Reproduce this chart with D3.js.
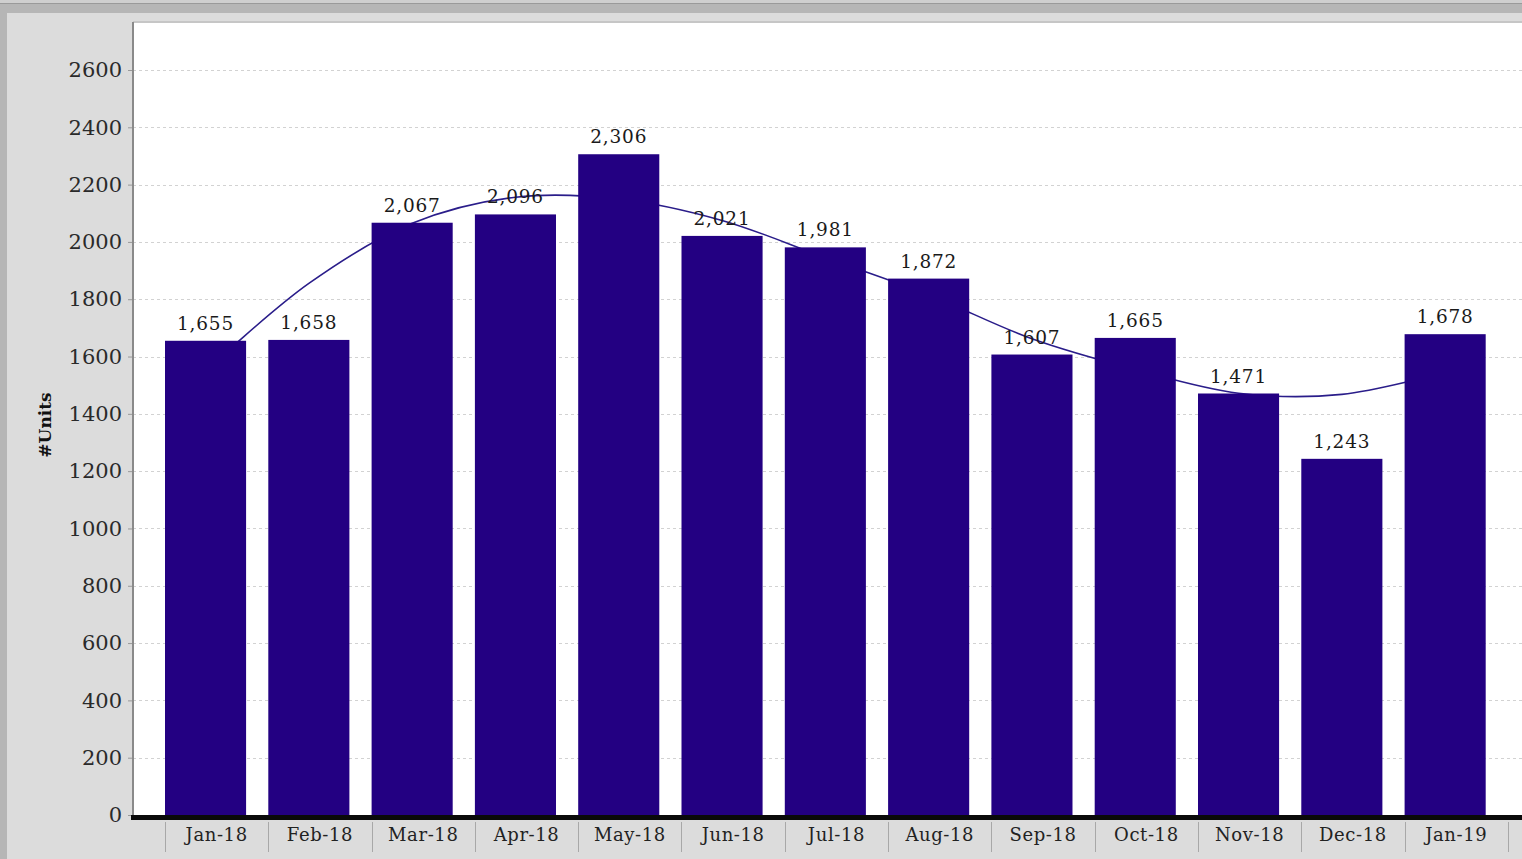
<!DOCTYPE html>
<html>
<head>
<meta charset="utf-8">
<script src="https://cdn.jsdelivr.net/npm/d3@7"></script>
<style>
  html, body { margin: 0; padding: 0; background: #c4c4c4; }
  svg { display: block; }
  text { font-family: "DejaVu Serif", "Liberation Serif", serif; }
</style>
</head>
<body>
<svg id="chart" width="1522" height="859"></svg>
<script>
// Monthly unit counts
const months = ["Jan-18", "Feb-18", "Mar-18", "Apr-18", "May-18", "Jun-18", "Jul-18",
                "Aug-18", "Sep-18", "Oct-18", "Nov-18", "Dec-18", "Jan-19"];
const units = [1655, 1658, 2067, 2096, 2306, 2021, 1981, 1872, 1607, 1665, 1471, 1243, 1678];
// Smoothed trend of the monthly counts
const trend = [1550, 1855, 2065, 2156, 2150, 2075, 1945, 1815, 1662, 1555, 1472, 1468, 1545];
const yTicks = [0, 200, 400, 600, 800, 1000, 1200, 1400, 1600, 1800, 2000, 2200, 2400, 2600];
const yTitle = "#Units";

const W = 1522, H = 859;
const plot = { left: 133, top: 23, right: W, bottom: 815 };
const svg = d3.select("#chart");

// window chrome and panel background
svg.append("rect").attr("x", 0).attr("y", 0).attr("width", W).attr("height", H).attr("fill", "#b6b6b6");
svg.append("rect").attr("x", 0).attr("y", 0).attr("width", W).attr("height", 3).attr("fill", "#cfcfcf");
svg.append("line").attr("x1", 0).attr("x2", W).attr("y1", 3.5).attr("y2", 3.5).attr("stroke", "#9a9a9a");
svg.append("rect").attr("x", 7).attr("y", 13).attr("width", W - 7).attr("height", H - 13).attr("fill", "#dcdcdc");
svg.append("rect").attr("x", plot.left).attr("y", 21).attr("width", W - plot.left).attr("height", 2).attr("fill", "#c6c6c6");
svg.append("rect").attr("x", plot.left).attr("y", plot.top)
  .attr("width", plot.right - plot.left).attr("height", plot.bottom - plot.top).attr("fill", "#ffffff");

const x = d3.scaleBand().domain(months).range([165, 165 + 103.3 * months.length]).padding(0);
const barW = x.bandwidth() * 0.785;
const y = d3.scaleLinear().domain([0, 2600]).range([plot.bottom, 70]);

// horizontal dashed grid
svg.append("g").selectAll("line").data(yTicks.filter(d => d > 0)).join("line")
  .attr("x1", plot.left).attr("x2", plot.right)
  .attr("y1", d => Math.round(y(d)) + 0.5).attr("y2", d => Math.round(y(d)) + 0.5)
  .attr("stroke", "#d2d2d2").attr("stroke-width", 1).attr("stroke-dasharray", "3,3");

// trend curve sits behind the bars
const line = d3.line()
  .x((d, i) => x(months[i]) + barW / 2)
  .y(d => y(d))
  .curve(d3.curveCatmullRom.alpha(0.5));
svg.append("path").datum(trend).attr("d", line)
  .attr("fill", "none").attr("stroke", "#2a1d8a").attr("stroke-width", 1.6);

// bars
svg.append("g").selectAll("rect").data(units).join("rect")
  .attr("x", (d, i) => x(months[i]))
  .attr("y", d => y(d))
  .attr("width", barW)
  .attr("height", d => y(0) - y(d))
  .attr("fill", "#230082");

// value labels
svg.append("g").selectAll("text").data(units).join("text")
  .attr("x", (d, i) => x(months[i]) + barW / 2)
  .attr("y", d => y(d) - 11)
  .attr("text-anchor", "middle")
  .attr("font-size", 18.5).attr("letter-spacing", 0.8)
  .attr("fill", "#1a1a1a")
  .text(d => d3.format(",")(d));

// y axis
const yAxis = d3.axisLeft(y).tickValues(yTicks).tickSize(5).tickPadding(6).tickFormat(d3.format("d"));
const gy = svg.append("g").attr("transform", `translate(${plot.left},0)`).call(yAxis);
gy.select(".domain").remove();
gy.selectAll(".tick line").attr("stroke", "#999");
gy.selectAll(".tick text").attr("font-size", 21).attr("fill", "#2a2a2a")
  .attr("font-family", "DejaVu Serif, serif");
svg.append("line").attr("x1", plot.left).attr("x2", plot.left).attr("y1", 22).attr("y2", plot.bottom)
  .attr("stroke", "#8a8a8a").attr("stroke-width", 2);

// x axis: thick base line, category separators and labels
svg.append("rect").attr("x", plot.left - 2).attr("y", plot.bottom).attr("width", W - plot.left + 2).attr("height", 5)
  .attr("fill", "#0a0a0a");
const xAxis = d3.axisBottom(x).tickSize(0).tickPadding(0);
const gx = svg.append("g").attr("transform", `translate(0,${plot.bottom + 5})`).call(xAxis);
gx.select(".domain").remove();
gx.selectAll(".tick text").attr("font-size", 18).attr("letter-spacing", 0.6).attr("fill", "#222")
  .attr("font-family", "DejaVu Serif, serif").attr("dy", "0").attr("y", 21);
svg.append("g").selectAll("line").data(months.concat(["end"])).join("line")
  .attr("x1", (d, i) => Math.round(165 + i * x.step()) + 0.5)
  .attr("x2", (d, i) => Math.round(165 + i * x.step()) + 0.5)
  .attr("y1", plot.bottom + 7).attr("y2", 852)
  .attr("stroke", "#a8a8a8").attr("stroke-width", 1);

// axis title
svg.append("text")
  .attr("transform", "translate(51,425) rotate(-90)")
  .attr("text-anchor", "middle")
  .attr("font-size", 17).attr("font-weight", "bold").attr("fill", "#111")
  .text(yTitle);
</script>
</body>
</html>
